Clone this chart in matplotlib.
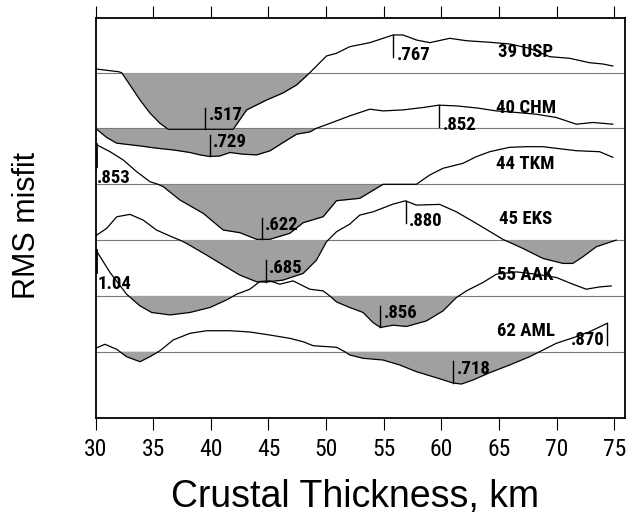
import matplotlib
matplotlib.use("Agg")
import matplotlib.pyplot as plt
import numpy as np

# Station names, top to bottom
stations = ["39 USP", "40 CHM", "44 TKM", "45 EKS", "55 AAK", "62 AML"]

# Curves: crustal thickness (km) and misfit relative to each station's baseline
usp_x = [30.04, 31.98, 32.27, 33.28, 33.86, 34.72, 35.59, 36.31, 37.9, 39.49, 40.8, 41.94,
         43.10, 44.84, 46.25, 47.44, 48.59, 50.03, 50.90, 52.05, 53.79, 54.94, 55.81,
         56.67, 57.83, 58.99, 60.72, 62.17, 64.19, 65.92, 67.65, 69.39, 71.12, 72.85,
         74.00, 74.87]
usp_y = [0.066, 0.018, 0.0, -0.31, -0.489, -0.722, -0.907, -1.014, -1.014, -1.014, -1.014,
         -1.014, -0.668, -0.489, -0.364, -0.220, 0.0, 0.299, 0.348, 0.466, 0.538, 0.616,
         0.676, 0.676, 0.586, 0.538, 0.616, 0.573, 0.545, 0.514, 0.437, 0.287, 0.258,
         0.179, 0.156, 0.120]

chm_x = [30.10, 30.97, 31.84, 33.86, 35.30, 36.74, 38.19, 39.06, 39.92, 40.79, 41.66,
         42.81, 43.97, 45.12, 46.27, 47.44, 48.59, 49.11, 49.74, 50.90, 52.05, 53.79,
         54.94, 56.67, 58.41, 59.77, 61.30, 63.03, 64.77, 66.50, 68.23, 69.97, 71.70,
         73.14, 74.87]
chm_y = [-0.013, -0.161, -0.263, -0.312, -0.353, -0.384, -0.430, -0.473, -0.502, -0.491,
         -0.430, -0.461, -0.473, -0.401, -0.251, -0.102, -0.061, 0.0, 0.047, 0.136, 0.226,
         0.346, 0.315, 0.333, 0.376, 0.418, 0.405, 0.369, 0.315, 0.287, 0.256, 0.197,
         0.077, 0.108, 0.077]

tkm_x = [30.0, 31.26, 32.41, 33.57, 34.72, 35.42, 35.88, 37.32, 39.34, 41.07, 42.52,
         43.97, 44.40, 45.12, 46.85, 48.01, 49.74, 50.90, 52.92, 54.94, 57.83, 58.99,
         60.14, 61.87, 63.03, 64.19, 65.92, 67.37, 68.80, 69.97, 71.70, 73.72, 74.87]
tkm_y = [0.72, 0.584, 0.435, 0.226, 0.047, 0.0, -0.043, -0.281, -0.520, -0.819, -0.867,
         -0.986, -0.986, -0.986, -0.878, -0.688, -0.581, -0.294, -0.251, 0.0, 0.0, 0.167,
         0.287, 0.376, 0.495, 0.584, 0.663, 0.674, 0.674, 0.645, 0.602, 0.584, 0.484]

eks_x = [30.10, 30.97, 31.84, 32.99, 34.14, 35.30, 36.74, 37.32, 37.90, 39.64, 41.07,
         42.52, 43.97, 44.75, 46.27, 48.01, 49.17, 50.03, 50.90, 52.05, 52.92, 54.07,
         55.81, 56.88, 57.83, 59.85, 61.30, 63.03, 65.34, 67.07, 68.80, 70.54, 71.40,
         72.27, 73.43, 75.16]
eks_y = [0.090, 0.210, 0.418, 0.461, 0.358, 0.179, 0.048, 0.0, -0.059, -0.269, -0.448,
         -0.627, -0.747, -0.753, -0.717, -0.597, -0.358, -0.030, 0.149, 0.287, 0.448,
         0.507, 0.645, 0.704, 0.627, 0.640, 0.507, 0.299, 0.013, -0.149, -0.328, -0.418,
         -0.418, -0.299, -0.120, 0.0]

aak_x = [30.05, 31.26, 32.70, 33.86, 34.87, 36.46, 38.19, 39.92, 41.37, 42.24, 43.39,
         44.25, 45.12, 45.99, 47.14, 48.59, 49.74, 50.32, 50.90, 52.05, 53.21, 54.07,
         54.71, 55.81, 56.97, 58.70, 60.14, 61.30, 62.17, 63.60, 64.77, 66.50, 68.23,
         69.97, 71.40, 72.56, 73.72, 74.73]
aak_y = [0.82, 0.419, 0.030, -0.179, -0.297, -0.341, -0.297, -0.208, -0.072, 0.030, 0.120,
         0.258, 0.269, 0.210, 0.269, 0.120, 0.090, 0.0, -0.108, -0.208, -0.297, -0.477,
         -0.566, -0.525, -0.548, -0.448, -0.269, -0.029, 0.090, 0.240, 0.389, 0.430,
         0.389, 0.330, 0.210, 0.120, 0.161, 0.179]

aml_x = [30.0, 30.82, 31.84, 32.70, 33.86, 34.72, 35.59, 36.74, 38.19, 39.64, 41.66,
         43.39, 45.12, 46.85, 48.01, 48.87, 50.90, 51.62, 52.05, 53.21, 54.94, 56.39,
         57.83, 59.27, 61.00, 61.73, 62.74, 64.19, 65.92, 67.65, 68.52, 69.97, 71.70,
         72.85, 74.38]
aml_y = [0.061, 0.133, 0.043, -0.090, -0.179, -0.090, 0.018, 0.210, 0.330, 0.376, 0.376,
         0.353, 0.299, 0.240, 0.179, 0.108, 0.079, 0.0, -0.059, -0.118, -0.149, -0.238,
         -0.358, -0.448, -0.56, -0.58, -0.507, -0.376, -0.238, -0.090, 0.0, 0.151, 0.269,
         0.358, 0.509]

curves_x = [usp_x, chm_x, tkm_x, eks_x, aak_x, aml_x]
curves_y = [usp_y, chm_y, tkm_y, eks_y, aak_y, aml_y]

# Marked values: text, thickness, where the text goes
marks_text = [[".767", ".517"], [".852", ".729"], [".853", ".622"],
              [".880", ".685"], ["1.04", ".856"], [".718", ".870"]]
marks_x = [[55.8, 39.5], [59.8, 39.9], [30.0, 44.4],
           [56.9, 44.75], [30.05, 54.71], [61.0, 74.38]]
marks_side = [["r", "r"], ["r", "r"], ["b", "r"],
              ["r", "r"], ["b", "r"], ["r", "l"]]

narrow = ["Roboto Condensed", "PT Sans Narrow", "Liberation Sans", "DejaVu Sans"]
plain = ["Liberation Sans", "DejaVu Sans"]

fig = plt.figure(figsize=(6.32, 5.16), dpi=100)
ax = fig.add_axes([95.5 / 632, 1 - 417.5 / 516, 529.8 / 632, 400 / 516])

n = len(stations)
for i, name in enumerate(stations):
    base = n - 1 - i
    xs = np.array(curves_x[i])
    ys = np.array(curves_y[i])
    ax.axhline(base, color="#7a7a7a", lw=0.8, zorder=1)
    ax.fill_between(xs, base + ys, base, where=ys <= 0, interpolate=True,
                    color="#a0a0a0", lw=0, zorder=2)
    ax.plot(xs, base + ys, color="black", lw=0.9, zorder=3)
    ax.text(67.3, base + 0.37, name, ha="center", va="center", fontsize=13.5,
            fontweight="bold", family=narrow, zorder=4)

    for txt, mx, side in zip(marks_text[i], marks_x[i], marks_side[i]):
        v = np.interp(mx, xs, ys)
        end = v - np.sign(v) * 0.39
        ax.plot([mx, mx], [base + v, base + end], color="black",
                lw=2.0 if mx <= 30.1 else 1.0, zorder=3)
        if side == "r":
            va = "top" if v < 0 else "baseline"
            ax.text(mx + 0.3, base + end + (0.03 if v < 0 else -0.06), txt, ha="left",
                    va=va, fontsize=13.5, fontweight="bold", family=narrow, zorder=4)
        elif side == "l":
            ax.text(mx - 0.25, base + end - 0.07, txt, ha="right", va="bottom",
                    fontsize=13.5, fontweight="bold", family=narrow, zorder=4)
        else:
            ax.text(mx + 0.1, base + end - 0.05, txt, ha="left", va="top",
                    fontsize=13.5, fontweight="bold", family=narrow, zorder=4)

ax.set_xlim(30, 75.95)
ax.set_ylim(-1.179, 5.989)
ax.set_xticks(np.arange(30, 80, 5))
ax.set_yticks([])
ax.tick_params(axis="x", direction="out", length=8.5, width=0.8, top=True,
               labeltop=False, labelsize=17, pad=6)
for lab in ax.get_xticklabels():
    lab.set_family(narrow)
for s in ax.spines.values():
    s.set_linewidth(1.3)

ax.set_xlabel("Crustal Thickness, km", fontsize=27, family=plain)
ax.xaxis.set_label_coords(0.49, -0.224)
ax.xaxis.label.set_va("baseline")
ax.set_ylabel("RMS misfit", fontsize=22, family=plain)
ax.yaxis.set_label_coords(-0.129, 0.479)
ax.yaxis.label.set_va("center")

fig.savefig("out.png", dpi=100)
